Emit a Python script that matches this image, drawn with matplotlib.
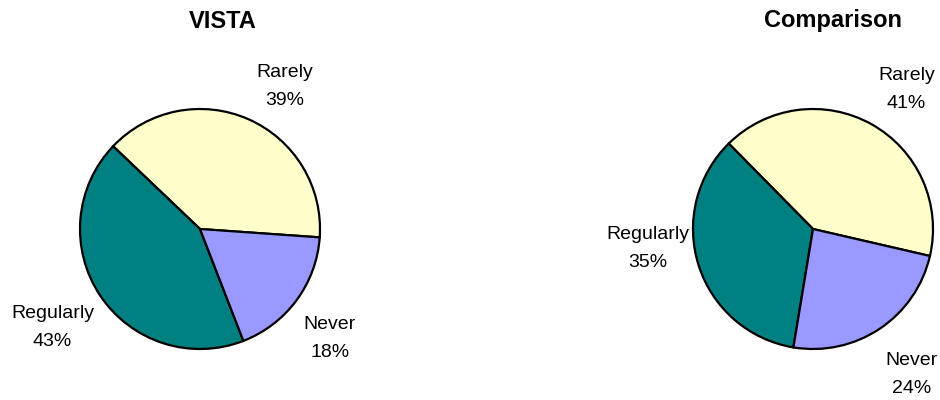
import matplotlib
matplotlib.use("Agg")
import matplotlib.pyplot as plt

CATEGORIES = ["Rarely", "Regularly", "Never"]
VISTA = [39, 43, 18]
COMPARISON = [41, 35, 24]
COLORS = ["#FFFFCC", "#008080", "#9999FF"]

LABEL_FONT = ["Liberation Sans", "DejaVu Sans"]
TITLE_FONT = ["Liberation Sans", "DejaVu Sans"]

# label centres relative to pie centre, in radius units (layout only)
VISTA_LABEL_POS = [(0.71, 1.19), (-1.23, -0.82), (1.08, -0.91)]
COMP_LABEL_POS = [(0.78, 1.16), (-1.375, -0.16), (0.82, -1.21)]


def draw_pie(fig, rect, values, start, title, title_x, label_pos):
    ax = fig.add_axes(rect)
    wedges, _ = ax.pie(values, colors=COLORS, startangle=start, counterclock=True,
                       wedgeprops=dict(edgecolor="black", linewidth=1.6))
    for w in wedges:
        w.set_clip_on(False)
    ax.set_xlim(-1, 1)
    ax.set_ylim(-1, 1)
    ax.set_aspect("equal")
    ax.axis("off")
    for cat, val, (x, y) in zip(CATEGORIES, values, label_pos):
        ax.text(x, y, f"{cat}\n{val}%", ha="center", va="center", fontsize=14,
                family=LABEL_FONT, linespacing=1.85, clip_on=False)
    fig.text(title_x, 1 - 21 / 400, title, ha="center", va="center",
             fontsize=17, fontweight="bold", family=TITLE_FONT)


def main():
    fig = plt.figure(figsize=(9.4, 4), dpi=100)
    draw_pie(fig, [80 / 940, 51 / 400, 240 / 940, 240 / 400], VISTA, -4,
             "VISTA", 223 / 940, VISTA_LABEL_POS)
    draw_pie(fig, [693 / 940, 51 / 400, 240 / 940, 240 / 400], COMPARISON, -13,
             "Comparison", 833 / 940, COMP_LABEL_POS)
    fig.savefig("out.png", dpi=100)


if __name__ == "__main__":
    main()
